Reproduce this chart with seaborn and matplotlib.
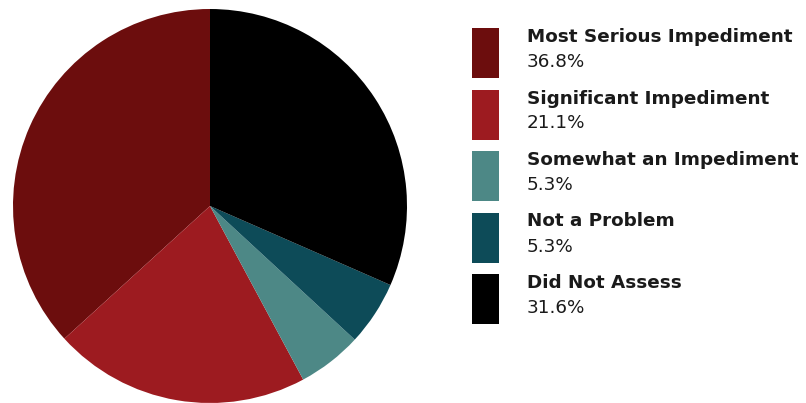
import matplotlib
matplotlib.use("Agg")
import matplotlib.pyplot as plt
from matplotlib.patches import Rectangle
import seaborn as sns

categories = ["Most Serious Impediment", "Significant Impediment",
              "Somewhat an Impediment", "Not a Problem", "Did Not Assess"]
values = [36.8, 21.1, 5.3, 5.3, 31.6]
colors = ["#6c0d0d", "#9d1b20", "#4d8886", "#0d4b58", "#000000"]

sns.set_theme(style="white")
plt.rcParams['font.family'] = ['DejaVu Sans']

W, H = 806, 403
fig = plt.figure(figsize=(W / 100, H / 100), dpi=100)
fig.patch.set_facecolor("white")

cx, cy, r = 210, 206, 197
ax = fig.add_axes([(cx - r) / W, (H - cy - r) / H, 2 * r / W, 2 * r / H])
ax.pie(values, colors=colors, startangle=90, counterclock=True,
       radius=1, wedgeprops=dict(linewidth=0))
ax.set_xlim(-1, 1)
ax.set_ylim(-1, 1)
ax.set_aspect("equal")
ax.axis("off")

# legend
px, pw, ph = 472, 27, 50
top0, step = 28, 61.5
for i, (cat, val, col) in enumerate(zip(categories, values, colors)):
    top = top0 + i * step
    fig.patches.append(Rectangle((px / W, (H - top - ph) / H), pw / W, ph / H,
                                 transform=fig.transFigure, facecolor=col,
                                 edgecolor="none"))
    fig.text(527 / W, (H - top - 9) / H, cat, fontsize=13.2, fontweight="semibold",
             color="#1a1a1a", va="center", ha="left")
    fig.text(527 / W, (H - top - 34) / H, f"{val:.1f}%", fontsize=13.2,
             color="#1a1a1a", va="center", ha="left")

fig.savefig("out.png", dpi=100, facecolor="white")
